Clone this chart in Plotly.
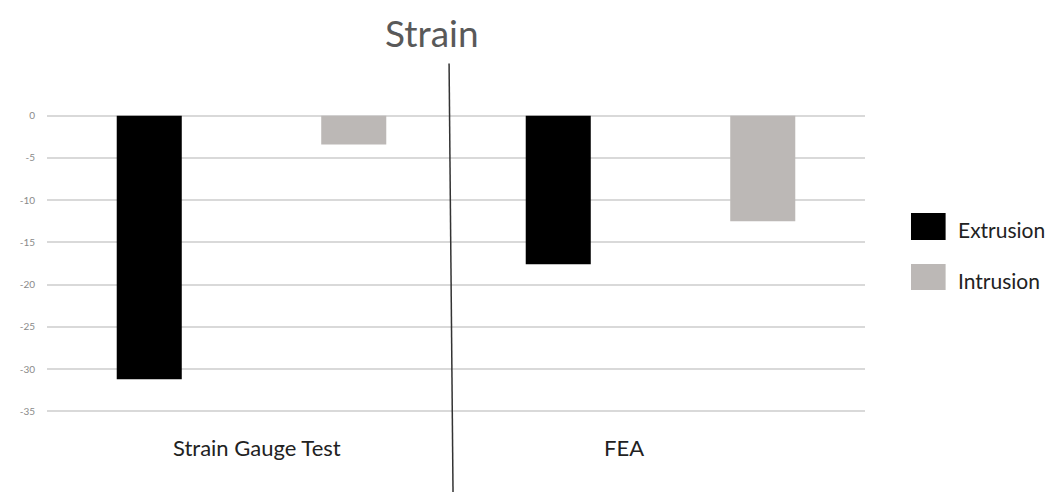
import plotly.graph_objects as go

categories = ["Strain Gauge Test", "FEA"]
series_names = ["Extrusion", "Intrusion"]
extrusion = [-31.2, -17.6]
intrusion = [-3.4, -12.5]
colors = ["#000000", "#bcb8b6"]
y_ticks = [0, -5, -10, -15, -20, -25, -30, -35]

fig = go.Figure()
for name, vals, col in zip(series_names, [extrusion, intrusion], colors):
    fig.add_trace(go.Bar(x=categories, y=vals, name=name, marker=dict(color=col, line=dict(width=0)),
                         showlegend=False))

# page has an 8px body margin: figure pixel = reference pixel - 8
OFF = 8
W, H = 1056, 492
PAD = 0.2
ppu = (411 - 116) / 35.0
L = 38.5 - OFF
R = 865.5 - OFF
T = 116 - PAD * ppu - OFF
B = 411 + PAD * ppu - OFF

def px(x):
    return (x - OFF - L) / (R - L)
def py(y):
    return (B - (y - OFF)) / (B - T)

annotations = []
shapes = []
annotations.append(dict(text="Strain", xref="paper", yref="paper", x=px(428), y=py(OFF + 1),
                        showarrow=False, font=dict(size=37, color="#595959", family="Lato"),
                        xanchor="center", yanchor="top"))
for cat, cx in zip(categories, [251, 622]):
    annotations.append(dict(text=cat, xref="paper", yref="paper", x=px(cx), y=py(447),
                            showarrow=False, font=dict(size=22, color="#222222", family="Lato"),
                            xanchor="center", yanchor="middle"))
for name, col, (y0, y1), ty in zip(series_names, colors, [(213, 240), (264, 290)], [230, 280]):
    shapes.append(dict(type="rect", xref="paper", yref="paper", x0=px(912), x1=px(947),
                       y0=py(y1), y1=py(y0), fillcolor=col, line=dict(width=0)))
    annotations.append(dict(text=name, xref="paper", yref="paper", x=px(957), y=py(ty),
                            showarrow=False, font=dict(size=21, color="#222222", family="Lato"),
                            xanchor="left", yanchor="middle"))
shapes.append(dict(type="line", xref="paper", yref="paper", x0=px(445), y0=py(64), x1=px(449), y1=py(492),
                   line=dict(color="#333333", width=1.5)))

fig.update_layout(
    width=W, height=H,
    margin=dict(l=L, r=W - R, t=T, b=H - B, pad=0),
    paper_bgcolor="white", plot_bgcolor="white",
    barmode="group", bargap=0.0, bargroupgap=0.682,
    annotations=annotations, shapes=shapes,
    font=dict(family="Lato"),
)
fig.update_xaxes(range=[-0.5, 1.5], showticklabels=False, showgrid=False, zeroline=False,
                 showline=False, ticks="")
fig.update_yaxes(range=[-35 - PAD, PAD], tickvals=y_ticks, ticktext=[str(v) for v in y_ticks],
                 showgrid=True, gridcolor="#d9d9d9", gridwidth=1.5, zeroline=False, showline=False,
                 tickfont=dict(size=10, color="#8a8a8a", family="Lato"), ticklabelstandoff=11)

fig.write_html("out.html")
